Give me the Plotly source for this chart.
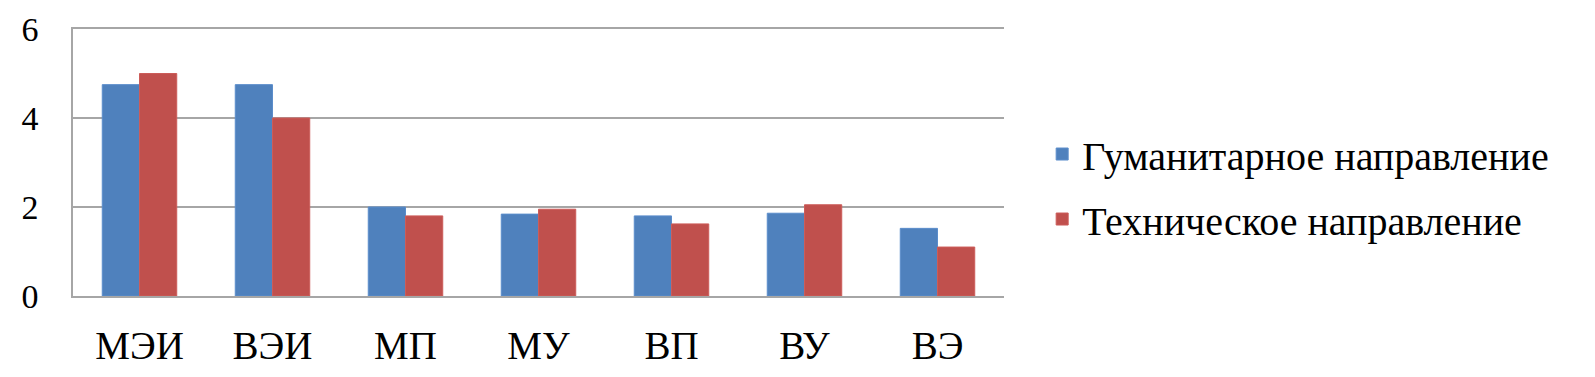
import plotly.graph_objects as go

categories = ["МЭИ", "ВЭИ", "МП", "МУ", "ВП", "ВУ", "ВЭ"]
humanities = [4.75, 4.75, 2.0, 1.84, 1.8, 1.86, 1.52]
technical = [5.0, 4.0, 1.8, 1.95, 1.62, 2.05, 1.1]
series_names = ["Гуманитарное направление", "Техническое направление"]
y_ticks = [0, 2, 4, 6]

FONT = "Liberation Serif, Times New Roman, serif"

fig = go.Figure()
fig.add_trace(go.Bar(x=categories, y=humanities, name=series_names[0],
                     marker=dict(color="#4F81BD", line=dict(color="#5B8DCB", width=1)),
                     legendgroup="a"))
fig.add_trace(go.Bar(x=categories, y=technical, name=series_names[1],
                     marker=dict(color="#C0504D", line=dict(color="#CC5C59", width=1)),
                     legendgroup="b"))

# page body has an 8px default margin, so the figure is offset by 8px
fig.update_layout(
    width=1587, height=369,
    margin=dict(l=65, r=591, t=21, b=81, autoexpand=False),
    paper_bgcolor="white", plot_bgcolor="white",
    barmode="group", bargap=0.44, bargroupgap=0,
    font=dict(family=FONT, color="black"),
    showlegend=True,
    legend=dict(x=1.041, xanchor="left", y=0.41, yanchor="middle",
                font=dict(family=FONT, size=40, color="black"),
                tracegroupgap=10, bgcolor="rgba(0,0,0,0)"),
    xaxis=dict(showgrid=False, showline=True, mirror=True, linecolor="#A6A6A6", linewidth=1.5,
               ticks="", tickfont=dict(family=FONT, size=39), ticklabelstandoff=14,
               automargin=False),
    yaxis=dict(range=[0, 6], tickvals=y_ticks, showgrid=True, gridcolor="#A6A6A6",
               gridwidth=1.5, showline=True, linecolor="#A6A6A6", linewidth=1.5,
               ticks="", zeroline=False, tickfont=dict(family=FONT, size=34),
               ticklabelstandoff=26, automargin=False),
)

fig.write_html("out.html")
